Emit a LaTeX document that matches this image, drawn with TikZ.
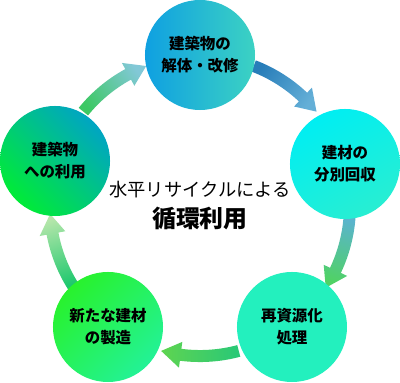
\documentclass[tikz,border=0pt]{standalone}
\usepackage{fontspec}
\setmainfont{Noto Sans CJK JP}
\usetikzlibrary{positioning}

\definecolor{topL}{RGB}{15,160,225}
\definecolor{topM}{RGB}{0,198,238}
\definecolor{topR}{RGB}{60,210,195}
\definecolor{rgtT}{RGB}{0,238,242}
\definecolor{rgtB}{RGB}{40,238,210}
\definecolor{brA}{RGB}{35,240,190}
\definecolor{brM}{RGB}{105,250,208}
\definecolor{blA}{RGB}{40,242,45}
\definecolor{blM}{RGB}{110,250,140}
\definecolor{blB}{RGB}{35,242,150}
\definecolor{lfT}{RGB}{0,165,195}
\definecolor{lfB}{RGB}{0,235,55}
\definecolor{arOneS}{RGB}{40,125,185}
\definecolor{arOneE}{RGB}{100,175,215}
\definecolor{arTwoS}{RGB}{90,180,205}
\definecolor{arTwoE}{RGB}{80,210,100}
\definecolor{arThrS}{RGB}{40,200,120}
\definecolor{arThrE}{RGB}{95,212,80}
\definecolor{arFouS}{RGB}{30,200,110}
\definecolor{arFouE}{RGB}{180,230,170}
\definecolor{arFivS}{RGB}{60,200,100}
\definecolor{arFivE}{RGB}{130,200,215}

% one shaded arc arrow: start angle, end angle, start colour, end colour
\newcommand{\ringarrow}[4]{%
  \pgfmathsetmacro\midang{(#1+#2)/2}
  \pgfmathsetmacro\headang{#2+7.6}
  \path[left color=#3, right color=#4, shading angle=\midang]
    (#1:156) arc[start angle=#1, end angle=\headang, radius=156]
    -- (\headang:163) -- (#2:150) -- (\headang:137) -- (\headang:144)
    arc[start angle=\headang, end angle=#1, radius=144] -- cycle;
}

\begin{document}
\begin{tikzpicture}[scale=0.025,
  stage/.style={circle, minimum size=2.75cm, inner sep=0pt, align=center,
    font=\bfseries\fontsize{11}{15.6}\selectfont}]
\useasboundingbox (0,0) rectangle (400,383);

\coordinate (O) at (200,177);

\begin{scope}[shift={(O)}]
\ringarrow{69}{39}{arOneS}{arOneE}
\ringarrow{-3}{-33}{arTwoS}{arTwoE}
\ringarrow{-75}{-105}{arThrS}{arThrE}
\ringarrow{213}{183}{arFouS}{arFouE}
\ringarrow{141}{111}{arFivS}{arFivE}
\end{scope}

\node[stage, left color=topL, middle color=topM, right color=topR] (dismantle) at (200,328) {建築物の\\解体・改修};
\node[stage, top color=rgtT, bottom color=rgtB, shading angle=30] (sorting) at (345,219) {建材の\\分別回収};
\node[stage, left color=brA, middle color=brM, right color=brA, shading angle=45] (recycle) at (292,56) {再資源化\\処理};
\node[stage, top color=blA, middle color=blM, bottom color=blB, shading angle=45] (produce) at (108,56) {新たな建材\\の製造};
\node[stage, top color=lfT, bottom color=lfB, shading angle=-45] (reuse) at (55,222) {建築物\\への利用};

\node[font=\fontsize{13}{15}\selectfont] (lead) at (200,193) {水平リサイクルによる};
\node[font=\bfseries\fontsize{17}{20}\selectfont, below=-1pt of lead] (title) {循環利用};
\end{tikzpicture}
\end{document}
